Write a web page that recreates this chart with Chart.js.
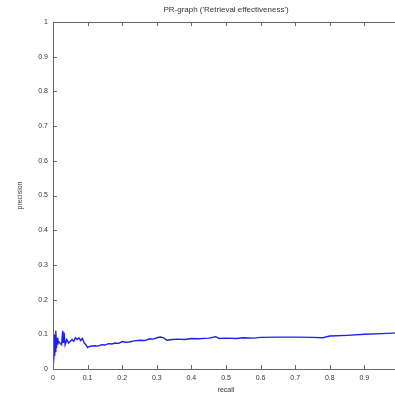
<!DOCTYPE html>
<html>
<head>
<meta charset="utf-8">
<script src="https://cdn.jsdelivr.net/npm/chart.js@4"></script>
<style>
  html, body { margin: 0; padding: 0; background: #fff; overflow: hidden; }
  #wrap { width: 395px; height: 394px; overflow: hidden; }
  #wrap div { width: 452px; height: 394px; position: relative; }
</style>
</head>
<body>
<div id="wrap"><div><canvas id="prChart"></canvas></div></div>
<script>
// recall / precision pairs
const recall = [0, 0.003, 0.005, 0.006, 0.008, 0.010, 0.012, 0.014, 0.016, 0.020,
  0.025, 0.028, 0.030, 0.032, 0.035, 0.040, 0.045, 0.050, 0.055, 0.060,
  0.065, 0.070, 0.075, 0.080, 0.085, 0.090, 0.095, 0.100, 0.105, 0.120,
  0.130, 0.140, 0.150, 0.160, 0.170, 0.180, 0.190, 0.200, 0.210, 0.220,
  0.235, 0.250, 0.265, 0.280, 0.290, 0.300, 0.310, 0.320, 0.325, 0.330,
  0.345, 0.360, 0.380, 0.400, 0.420, 0.450, 0.470, 0.480, 0.500, 0.530,
  0.550, 0.580, 0.600, 0.650, 0.700, 0.750, 0.780, 0.800, 0.850, 0.900,
  0.950, 1.000];
const precision = [0, 0.04, 0.10, 0.05, 0.11, 0.06, 0.09, 0.07, 0.08, 0.075,
  0.07, 0.11, 0.075, 0.105, 0.07, 0.085, 0.075, 0.08, 0.085, 0.08,
  0.09, 0.085, 0.09, 0.082, 0.088, 0.075, 0.07, 0.062, 0.065, 0.067,
  0.066, 0.07, 0.069, 0.073, 0.072, 0.075, 0.074, 0.079, 0.077, 0.078,
  0.081, 0.083, 0.082, 0.087, 0.086, 0.09, 0.092, 0.09, 0.085, 0.083,
  0.085, 0.086, 0.085, 0.088, 0.087, 0.089, 0.093, 0.088, 0.089, 0.088,
  0.09, 0.089, 0.091, 0.092, 0.092, 0.091, 0.09, 0.095, 0.097, 0.1,
  0.102, 0.104];
const axisTicks = [0, 0.1, 0.2, 0.3, 0.4, 0.5, 0.6, 0.7, 0.8, 0.9, 1];

const points = recall.map((r, i) => ({ x: r, y: precision[i] }));
const axisColor = '#666';
const textColor = '#333';
const FONT = 'Liberation Sans, Arial, sans-serif';

// MATLAB-like box with inward ticks
const boxTicks = {
    id: 'boxTicks',
    afterDraw(chart) {
        const { ctx, chartArea: a, scales } = chart;
        ctx.save();
        ctx.strokeStyle = axisColor;
        ctx.lineWidth = 1;
        ctx.strokeRect(a.left + 0.5, a.top + 0.5, a.right - a.left, a.bottom - a.top);
        ctx.beginPath();
        axisTicks.forEach(v => {
            const px = Math.round(scales.x.getPixelForValue(v)) + 0.5;
            ctx.moveTo(px, a.bottom); ctx.lineTo(px, a.bottom - 4);
            ctx.moveTo(px, a.top); ctx.lineTo(px, a.top + 4);
            const py = Math.round(scales.y.getPixelForValue(v)) + 0.5;
            ctx.moveTo(a.left, py); ctx.lineTo(a.left + 4, py);
            ctx.moveTo(a.right, py); ctx.lineTo(a.right - 4, py);
        });
        ctx.stroke();
        ctx.restore();
    }
};

new Chart(document.getElementById('prChart'), {
    type: 'line',
    data: {
        datasets: [{
            data: points,
            borderColor: '#1f1ff0',
            borderWidth: 1.4,
            pointRadius: 0,
            tension: 0,
            fill: false
        }]
    },
    options: {
        responsive: true,
        maintainAspectRatio: false,
        animation: false,
        layout: { padding: 0 },
        plugins: {
            legend: { display: false },
            tooltip: { enabled: false },
            title: {
                display: true,
                text: "PR-graph ('Retrieval effectiveness')",
                color: textColor,
                font: { family: FONT, size: 8, weight: 'normal' },
                padding: { top: 5, bottom: 7.4 }
            }
        },
        scales: {
            x: {
                type: 'linear',
                min: 0, max: 1,
                afterBuildTicks: s => { s.ticks = axisTicks.map(v => ({ value: v })); },
                afterFit: s => { s.height = 25; },
                grid: { display: false, drawTicks: false },
                border: { display: false },
                ticks: {
                    color: textColor, font: { family: FONT, size: 7 }, padding: 5,
                    maxRotation: 0,
                    callback: v => String(v)
                },
                title: {
                    display: true, text: 'recall', color: textColor,
                    font: { family: FONT, size: 7 }, padding: { top: 0, bottom: 0 }
                }
            },
            y: {
                min: 0, max: 1,
                afterBuildTicks: s => { s.ticks = axisTicks.map(v => ({ value: v })); },
                afterFit: s => { s.width = 53; },
                grid: { display: false, drawTicks: false },
                border: { display: false },
                ticks: {
                    color: textColor, font: { family: FONT, size: 7 }, padding: 5,
                    callback: v => String(v)
                },
                title: {
                    display: true, text: 'precision', color: textColor,
                    font: { family: FONT, size: 7 }, padding: { top: 16, bottom: 0 }
                }
            },
            // empty right margin so the axes box matches the original, off-screen part
            yRight: {
                position: 'right',
                min: 0, max: 1,
                afterFit: s => { s.width = 53; },
                grid: { display: false, drawTicks: false },
                border: { display: false },
                ticks: { display: false }
            }
        }
    },
    plugins: [boxTicks]
});
</script>
</body>
</html>
